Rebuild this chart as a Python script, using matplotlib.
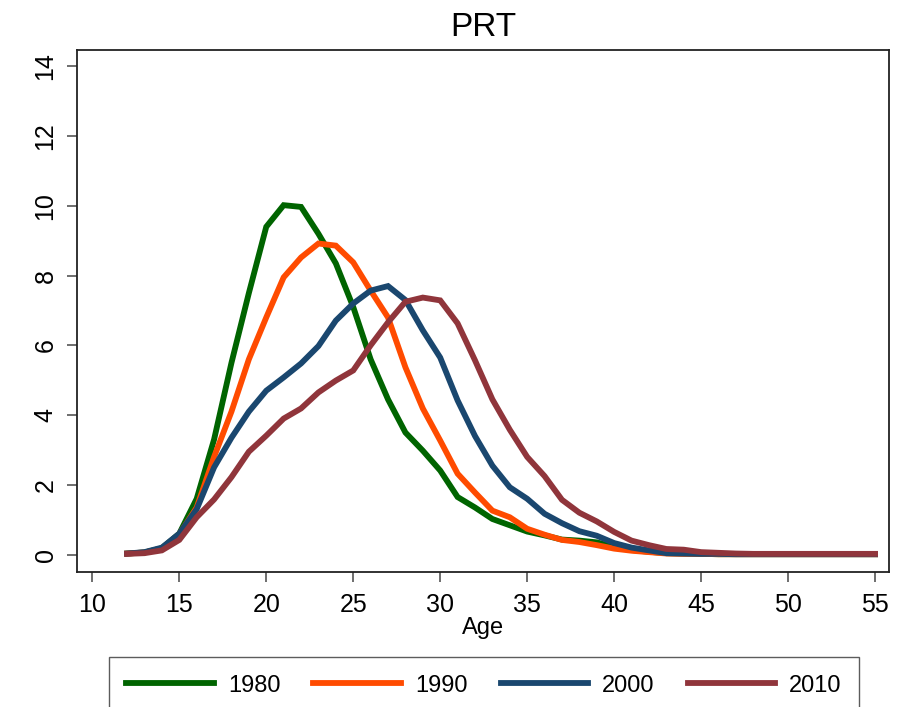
import matplotlib
matplotlib.use("Agg")
import matplotlib.pyplot as plt

plt.rcParams['font.family'] = ['Liberation Sans', 'DejaVu Sans']

# age-specific fertility rates, PRT
ages = list(range(12, 56))
asfr_1980 = [0.03, 0.06, 0.18, 0.6, 1.6, 3.3, 5.5, 7.5, 9.4, 10.02, 9.97, 9.2, 8.35, 7.1,
             5.6, 4.45, 3.5, 2.98, 2.41, 1.65, 1.35, 1.02, 0.84, 0.66, 0.55, 0.43, 0.4,
             0.35, 0.22, 0.13, 0.08, 0.04, 0.03, 0.02, 0.01, 0.01, 0.01, 0.01, 0.01,
             0.01, 0.01, 0.01, 0.01, 0.01]
asfr_1990 = [0.03, 0.06, 0.18, 0.58, 1.35, 2.8, 4.1, 5.6, 6.8, 7.95, 8.52, 8.92, 8.86,
             8.38, 7.57, 6.8, 5.37, 4.19, 3.27, 2.32, 1.78, 1.26, 1.07, 0.74, 0.57, 0.42,
             0.36, 0.27, 0.17, 0.11, 0.07, 0.03, 0.02, 0.02, 0.01, 0.01, 0.01, 0.01,
             0.01, 0.01, 0.01, 0.01, 0.01, 0.01]
asfr_2000 = [0.03, 0.07, 0.2, 0.6, 1.3, 2.5, 3.35, 4.1, 4.7, 5.08, 5.48, 5.98, 6.71, 7.2,
             7.57, 7.7, 7.3, 6.43, 5.65, 4.42, 3.4, 2.55, 1.93, 1.6, 1.17, 0.9, 0.67,
             0.54, 0.33, 0.2, 0.12, 0.04, 0.03, 0.02, 0.02, 0.01, 0.01, 0.01, 0.01,
             0.01, 0.01, 0.01, 0.01, 0.01]
asfr_2010 = [0.02, 0.04, 0.12, 0.42, 1.07, 1.58, 2.22, 2.95, 3.41, 3.9, 4.19, 4.65, 4.99,
             5.28, 6.0, 6.66, 7.25, 7.37, 7.29, 6.63, 5.57, 4.45, 3.58, 2.8, 2.25, 1.57,
             1.2, 0.95, 0.65, 0.4, 0.27, 0.16, 0.14, 0.07, 0.05, 0.03, 0.02, 0.02, 0.02,
             0.02, 0.02, 0.02, 0.02, 0.02]

years = ['1980', '1990', '2000', '2010']
series = [asfr_1980, asfr_1990, asfr_2000, asfr_2010]
colors = ['#006400', '#ff4b00', '#1a476f', '#90353b']

fig = plt.figure(figsize=(9.02, 7.07), dpi=100)
ax = fig.add_axes([77 / 902, 1 - 572 / 707, (889 - 77) / 902, (572 - 50) / 707])

for year, vals, c in zip(years, series, colors):
    ax.plot(ages, vals, color=c, lw=4.2, label=year, solid_joinstyle='miter')

ax.set_xlim(9.12, 55.8)
ax.set_ylim(-0.5, 14.47)
ax.set_xticks(range(10, 56, 5))
ax.set_yticks(range(0, 15, 2))
ax.tick_params(axis='both', direction='out', length=7, width=1.2, color='#555555',
               labelsize=18)
ax.tick_params(axis='x', pad=8)
ax.tick_params(axis='y', pad=7)
for lbl in ax.get_yticklabels():
    lbl.set_rotation(90)
    lbl.set_va('center')
for sp in ax.spines.values():
    sp.set_linewidth(1.3)
    sp.set_color('#222222')

ax.set_xlabel('Age', fontsize=17, labelpad=0)
ax.set_title('PRT', fontsize=24, pad=10)

# legend box runs off the bottom edge, as in the original
leg = fig.legend(loc='upper center', bbox_to_anchor=(484 / 902, 1 - 657 / 707),
                 ncol=4, fontsize=17, frameon=True, fancybox=False,
                 handlelength=3.7, handletextpad=0.6, columnspacing=1.4,
                 borderpad=0.75, borderaxespad=0)
leg.get_frame().set_edgecolor('#333333')
leg.get_frame().set_linewidth(1.0)

fig.savefig('out.png', dpi=100)
